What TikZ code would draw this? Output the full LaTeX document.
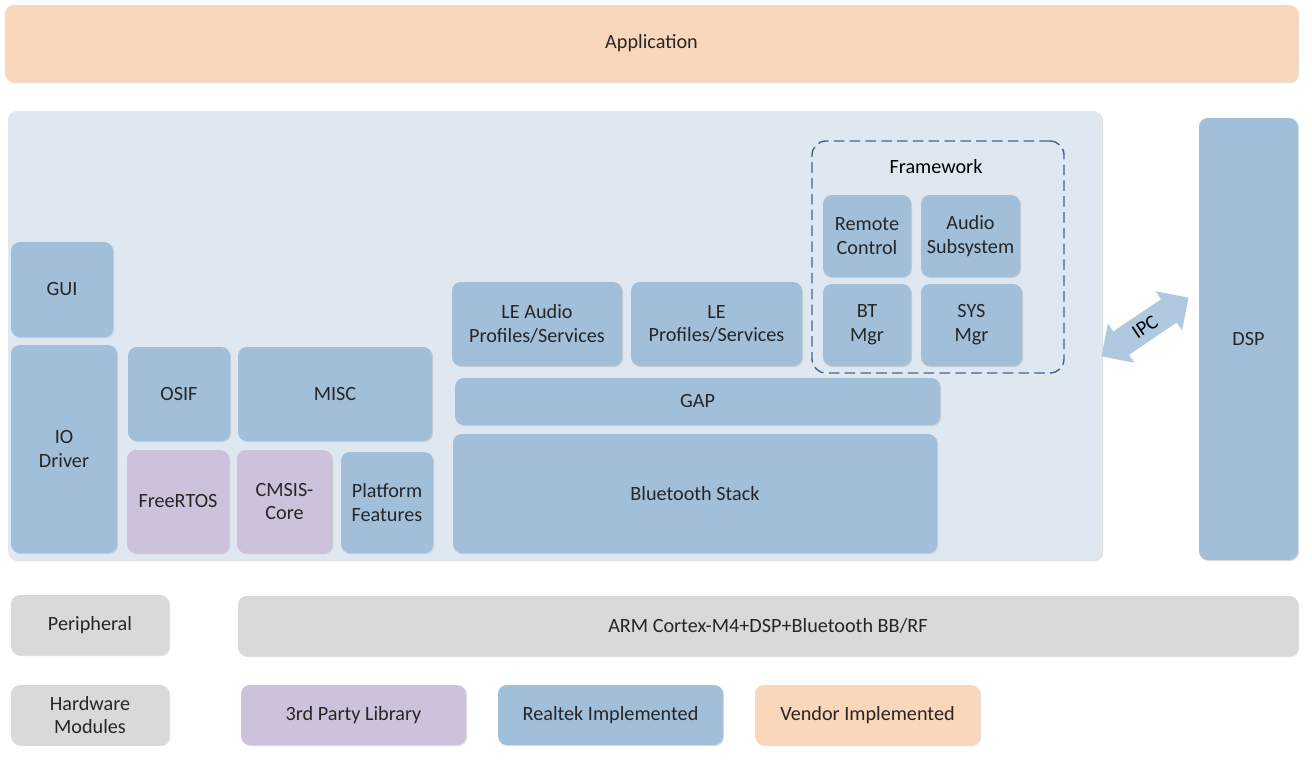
\documentclass[tikz,border=0pt]{standalone}
\usepackage{fontspec}
\setmainfont{Carlito}
\usepackage{tikz}
\usetikzlibrary{shapes.arrows,shadows}
\definecolor{rtblue}{HTML}{A2BFDA}
\definecolor{panelblue}{HTML}{DFE8F1}
\definecolor{peach}{HTML}{FAD7BB}
\definecolor{lilac}{HTML}{CEC1DB}
\definecolor{hwgray}{HTML}{D9D9D9}
\definecolor{dashblue}{HTML}{3F6690}
\tikzset{
  /tikz/.cd,
  blk/.style={fill=rtblue,rounded corners=5pt,align=center,inner sep=1pt,
              font=\fontsize{11.5}{13.5}\selectfont,text=black!85,
              drop shadow={shadow xshift=.6pt,shadow yshift=-.6pt,opacity=.25}}
}
\begin{document}
\begin{tikzpicture}[
    lib/.style={blk,fill=lilac},
    hw/.style={blk,fill=hwgray},
    vendor/.style={blk,fill=peach}]
  \useasboundingbox (0,0) rectangle (26.24,-15.18);

  \node (app) [vendor,minimum width=25.86cm,minimum height=1.54cm] at (13.03,-0.87) {Application};
  \node (panel) [blk,fill=panelblue,minimum width=21.88cm,minimum height=8.98cm] at (11.10,-6.71) {};
  \node (dsp) [blk,minimum width=1.98cm,minimum height=8.84cm] at (24.97,-6.78) {DSP};

  % framework group
  \node (fw) [draw=dashblue,thick,dash pattern=on 6pt off 3pt,rounded corners=8pt,minimum width=5.04cm,minimum height=4.64cm] at (18.76,-5.14) {};
  \node (fwlabel) [font=\fontsize{11.5}{13.5}\selectfont] at (18.72,-3.34) {Framework};
  \node (remote) [blk,minimum width=1.76cm,minimum height=1.64cm] at (17.34,-4.72) {Remote\\Control};
  \node (audio) [blk,minimum width=1.98cm,minimum height=1.64cm] at (19.41,-4.72) {Audio\\Subsystem};
  \node (btmgr) [blk,minimum width=1.76cm,minimum height=1.64cm] at (17.34,-6.50) {BT\\Mgr};
  \node (sysmgr) [blk,minimum width=2.02cm,minimum height=1.64cm] at (19.43,-6.50) {SYS\\Mgr};

  % bluetooth
  \node (leaudio) [blk,minimum width=3.40cm,minimum height=1.68cm] at (10.74,-6.48) {LE Audio\\Profiles/Services};
  \node (leprof) [blk,minimum width=3.42cm,minimum height=1.68cm] at (14.33,-6.48) {LE\\Profiles/Services};
  \node (gap) [blk,minimum width=9.70cm,minimum height=0.94cm] at (13.95,-8.03) {GAP};
  \node (btstack) [blk,minimum width=9.68cm,minimum height=2.38cm] at (13.90,-9.87) {Bluetooth Stack};

  % platform
  \node (gui) [blk,minimum width=2.04cm,minimum height=1.90cm] at (1.24,-5.79) {GUI};
  \node (io) [blk,minimum width=2.12cm,minimum height=4.16cm] at (1.28,-8.98) {IO\\Driver};
  \node (osif) [blk,minimum width=2.04cm,minimum height=1.88cm] at (3.58,-7.88) {OSIF};
  \node (misc) [blk,minimum width=3.88cm,minimum height=1.88cm] at (6.70,-7.88) {MISC};
  \node (rtos) [lib,minimum width=2.04cm,minimum height=2.06cm] at (3.56,-10.03) {FreeRTOS};
  \node (cmsis) [lib,minimum width=1.90cm,minimum height=2.06cm] at (5.69,-10.03) {CMSIS-\\Core};
  \node (platf) [blk,minimum width=1.84cm,minimum height=2.02cm] at (7.74,-10.05) {Platform\\Features};

  % hardware and legend
  \node (periph) [hw,minimum width=3.16cm,minimum height=1.20cm] at (1.80,-12.50) {Peripheral};
  \node (arm) [hw,minimum width=21.20cm,minimum height=1.20cm] at (15.36,-12.52) {ARM Cortex-M4+DSP+Bluetooth BB/RF};
  \node (hwmod) [hw,minimum width=3.16cm,minimum height=1.20cm] at (1.80,-14.30) {Hardware\\Modules};
  \node (third) [lib,minimum width=4.50cm,minimum height=1.20cm] at (7.07,-14.30) {3rd Party Library};
  \node (realtek) [blk,minimum width=4.50cm,minimum height=1.20cm] at (12.21,-14.30) {Realtek Implemented};
  \node (vend) [vendor,minimum width=4.50cm,minimum height=1.20cm] at (17.35,-14.30) {Vendor Implemented};

  % IPC
  \node (ipc) [double arrow,fill=rtblue!85,rotate=34,minimum height=2.1cm,minimum width=0.95cm,
               double arrow head extend=0.12cm,inner sep=1pt,font=\fontsize{11.5}{13.5}\selectfont] at (22.90,-6.54) {IPC};
\end{tikzpicture}
\end{document}
